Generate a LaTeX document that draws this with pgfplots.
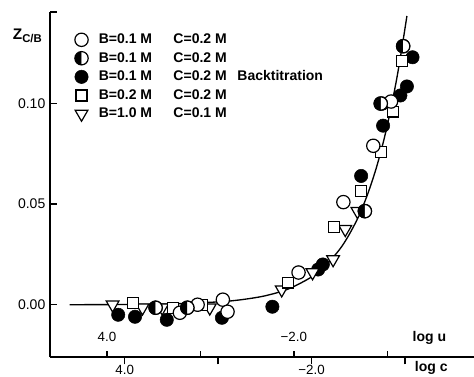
\documentclass[border=0pt]{standalone}
\usepackage{pgfplots}
\pgfplotsset{compat=1.18}
\usetikzlibrary{plotmarks}
\usepackage{fontspec}
\setmainfont{Liberation Sans}

\begin{document}
\begin{tikzpicture}
\begin{axis}[
  scale only axis,
  width=318pt, height=258.75pt,
  xmin=-4.8, xmax=-0.262, ymin=-0.026, ymax=0.1455,
  axis x line*=bottom, axis y line*=left,
  axis line style={line width=1.3pt},
  clip=false,
  tick align=inside,
  major tick length=5.5pt,
  every tick/.style={line width=1.1pt, black},
  x tick style={yshift=-5.5pt},
  xtick={-4,-3,-2,-1},
  xticklabels={4.0,,−2.0,},
  xticklabel style={yshift=-2.5pt, font=\fontsize{10}{12}\selectfont},
  ytick={0,0.05,0.1,0.1455},
  yticklabels={0.00,0.05,0.10,},
  yticklabel style={font=\fontsize{10.5}{12}\selectfont},
  legend style={at={(axis description cs:0.058,0.945)}, anchor=north west,
    draw=none, fill=none, inner sep=0pt,
    font=\fontsize{10.5}{12}\selectfont\bfseries,
    row sep=1.0pt},
  legend cell align=left,
]
\coordinate (LL) at (rel axis cs:0,0);
\coordinate (UR) at (rel axis cs:1,1);

% fitted curve
\addplot[line width=1pt, smooth, forget plot] coordinates {
(-4.59,0.0000) (-4.0,0.0001) (-3.5,0.0004) (-3.0,0.0014) (-2.75,0.0025)
(-2.5,0.0044) (-2.25,0.0078) (-2.0,0.0138) (-1.85,0.0195) (-1.7,0.0275)
(-1.6,0.0347) (-1.5,0.0436) (-1.4,0.0550) (-1.3,0.0692) (-1.2,0.0871)
(-1.1,0.1096) (-1.04,0.1258) (-0.98,0.1435)
};

% B=0.1 M C=0.2 M Backtitration (filled)
\addplot[only marks, mark=*, mark size=5pt, mark options={fill=black, draw=black}, forget plot] coordinates {
(-4.07,-0.005) (-3.89,-0.006) (-3.55,-0.0075) (-2.96,-0.0065) (-2.42,-0.001)
(-1.93,0.0175) (-1.88,0.020) (-1.47,0.064) (-1.235,0.089) (-1.24,0.100)
(-1.05,0.104) (-0.98,0.1085) (-0.92,0.1230)
};

% B=1.0 M C=0.1 M (triangle down)
\addplot[only marks, mark=triangle*, mark size=5.5pt, mark options={rotate=180, fill=white, draw=black, line width=0.9pt}, forget plot] coordinates {
(-4.13,0.000) (-3.81,-0.0015) (-3.60,-0.0015) (-3.09,-0.0015) (-2.32,0.0075)
(-1.99,0.016) (-1.77,0.0225) (-1.64,0.0375) (-1.51,0.0465)
};

% B=0.2 M C=0.2 M (square)
\addplot[only marks, mark=square*, mark size=4.1pt, mark options={fill=white, draw=black, line width=0.9pt}, forget plot] coordinates {
(-3.91,0.001) (-3.48,-0.0015) (-3.17,0.000) (-2.25,0.011) (-1.76,0.0385)
(-1.47,0.0565) (-1.26,0.076) (-1.13,0.096) (-1.03,0.121)
};

% B=0.1 M C=0.2 M (open circle)
\addplot[only marks, mark=*, mark size=5pt, mark options={fill=white, draw=black, line width=0.9pt}, forget plot] coordinates {
(-3.41,-0.004) (-3.22,0.000) (-2.95,0.0025) (-2.90,-0.0035) (-2.14,0.016)
(-1.66,0.051) (-1.34,0.079) (-1.15,0.101)
};

% B=0.1 M C=0.2 M (half-filled circle)
\addplot[only marks, mark=*, mark size=5pt, mark options={fill=white, draw=black, line width=0.9pt}, forget plot] coordinates {
(-3.67,-0.0015) (-3.33,-0.0015) (-1.43,0.0465) (-1.26,0.100) (-1.02,0.1285)
};
\addplot[only marks, mark=halfcircle*, mark size=5pt, mark options={rotate=90, fill=black, draw=black, line width=0.9pt}, forget plot] coordinates {
(-3.67,-0.0015) (-3.33,-0.0015) (-1.43,0.0465) (-1.26,0.100) (-1.02,0.1285)
};

% legend
\addlegendimage{only marks, mark=*, mark size=5pt, mark options={fill=white, draw=black, line width=0.9pt}}
\addlegendentry{\hspace{6pt}B=0.1 M\hspace{16pt}C=0.2 M}
\addlegendimage{only marks, mark=halfcircle*, mark size=5pt, mark options={rotate=90, fill=black, draw=black, line width=0.9pt}}
\addlegendentry{\hspace{6pt}B=0.1 M\hspace{16pt}C=0.2 M}
\addlegendimage{only marks, mark=*, mark size=5pt, mark options={fill=black, draw=black}}
\addlegendentry{\hspace{6pt}B=0.1 M\hspace{16pt}C=0.2 M\hspace{8pt}Backtitration}
\addlegendimage{only marks, mark=square*, mark size=4.1pt, mark options={fill=white, draw=black, line width=0.9pt}}
\addlegendentry{\hspace{6pt}B=0.2 M\hspace{16pt}C=0.2 M}
\addlegendimage{only marks, mark=triangle*, mark size=5.5pt, mark options={rotate=180, fill=white, draw=black, line width=0.9pt}}
\addlegendentry{\hspace{6pt}B=1.0 M\hspace{16pt}C=0.1 M}

% log u secondary scale (ticks pointing up)
\draw[line width=1.1pt] (axis cs:-4.19,-0.026) -- ++(0pt,4.5pt);
\draw[line width=1.1pt] (axis cs:-3.19,-0.026) -- ++(0pt,4.5pt);
\draw[line width=1.1pt] (axis cs:-2.19,-0.026) -- ++(0pt,4.5pt);
\draw[line width=1.1pt] (axis cs:-1.19,-0.026) -- ++(0pt,4.5pt);
\node[anchor=base, font=\fontsize{10}{12}\selectfont] at (axis cs:-4.19,-0.0185) {4.0};
\node[anchor=base, font=\fontsize{10}{12}\selectfont] at (axis cs:-2.19,-0.0185) {−2.0};
\node[anchor=base, font=\fontsize{10.5}{12}\selectfont\bfseries] at (axis cs:-0.74,-0.0185) {log u};
\node[anchor=base, yshift=-10.8pt, font=\fontsize{10.5}{12}\selectfont\bfseries] at (axis cs:-0.72,-0.026) {log c};

% y-axis label
\node[font=\fontsize{11.5}{13}\selectfont\bfseries, xshift=-17pt, yshift=-18pt] at (rel axis cs:0,1) {Z\raisebox{-2.5pt}{\fontsize{8.5}{9}\selectfont C/B}};
\end{axis}
\pgfresetboundingbox
\useasboundingbox ([shift={(-37.5pt,-14.25pt)}]LL) rectangle ([shift={(0pt,9pt)}]UR);
\end{tikzpicture}
\end{document}
